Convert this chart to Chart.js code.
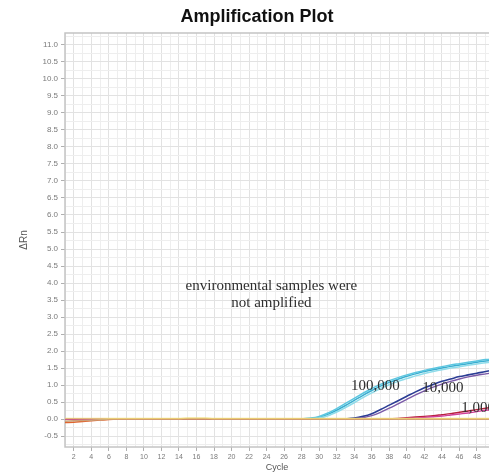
<!DOCTYPE html>
<html>
<head>
<meta charset="utf-8">
<script src="https://cdn.jsdelivr.net/npm/chart.js@4/dist/chart.umd.min.js"></script>
<style>
  html, body { margin: 0; padding: 0; background: #fff; overflow: hidden; }
  #wrap { width: 514px; height: 476px; }
</style>
</head>
<body>
<div id="wrap"><canvas id="plot" width="514" height="476"></canvas></div>
<script>
// Cycle numbers
const cycles = [1,2,3,4,5,6,7,8,9,10,11,12,13,14,15,16,17,18,19,20,21,22,23,24,25,
  26,27,28,29,30,31,32,33,34,35,36,37,38,39,40,41,42,43,44,45,46,47,48,49,50];

// Environmental samples (no amplification)
const envOrange = [-0.10,-0.09,-0.07,-0.05,-0.03,-0.01,0,0,0,0,0,0,0,0,0,0,0,0,0,0,0,0,0,0,0,
  0,0,0,0,0,0,0,0,0,0,0,0,0,0,0,0,0,0,0,0,0,0,0,0,0];
const envTan = [-0.06,-0.05,-0.04,-0.03,-0.02,0,0,0,0,0,0,0,0,0,0,0,0,0,0,0,0,0,0,0,0,
  0,0,0,0,0,0,0,0,0,0,0,0,0,0,0,0,0,0,0,0,0,0,0,0,0];
const envYellow = [0.02,0.02,0.02,0.02,0.02,0.02,0.02,0.02,0.02,0.02,0.02,0.02,0.02,0.02,0.03,0.03,0.03,0.02,0.02,0.02,0.02,0.02,0.02,0.02,0.02,
  0.02,0.02,0.02,0.02,0.02,0.02,0.02,0.02,0.02,0.02,0.02,0.02,0.02,0.02,0.02,0.02,0.02,0.02,0.02,0.02,0.02,0.02,0.02,0.02,0.02];

// Standard 100,000 copies
const std100kA = [0,0,0,0,0,0,0,0,0,0,0,0,0,0,0,0,0,0,0,0,0,0,0,0,0,0,0,0,
  0.01,0.05,0.14,0.26,0.40,0.55,0.70,0.84,0.97,1.08,1.17,1.26,1.33,1.40,1.45,1.50,1.55,1.59,1.63,1.67,1.71,1.74];
const std100kB = [0,0,0,0,0,0,0,0,0,0,0,0,0,0,0,0,0,0,0,0,0,0,0,0,0,0,0,
  0.01,0.03,0.08,0.18,0.31,0.46,0.61,0.76,0.90,1.02,1.13,1.22,1.30,1.37,1.43,1.49,1.54,1.59,1.63,1.67,1.71,1.75,1.78];
const std100kC = [0,0,0,0,0,0,0,0,0,0,0,0,0,0,0,0,0,0,0,0,0,0,0,0,0,0,0,0,
  0,0.03,0.10,0.21,0.34,0.48,0.63,0.77,0.90,1.01,1.11,1.19,1.27,1.34,1.40,1.45,1.50,1.54,1.58,1.62,1.66,1.69];

// Standard 10,000 copies
const std10kA = [0,0,0,0,0,0,0,0,0,0,0,0,0,0,0,0,0,0,0,0,0,0,0,0,0,0,0,0,0,0,0,0,
  0.01,0.03,0.08,0.16,0.28,0.41,0.54,0.67,0.80,0.92,1.02,1.11,1.18,1.25,1.30,1.35,1.40,1.44];
const std10kB = [0,0,0,0,0,0,0,0,0,0,0,0,0,0,0,0,0,0,0,0,0,0,0,0,0,0,0,0,0,0,0,0,0,
  0.01,0.04,0.10,0.20,0.32,0.45,0.58,0.71,0.83,0.94,1.03,1.11,1.18,1.24,1.29,1.33,1.37];

// Standard 1,000 copies
const std1kA = [0,0,0,0,0,0,0,0,0,0,0,0,0,0,0,0,0,0,0,0,0,0,0,0,0,0,0,0,0,0,0,0,0,0,0,0,0,
  0.01,0.02,0.04,0.06,0.08,0.10,0.13,0.16,0.20,0.24,0.28,0.32,0.36];
const std1kB = [0,0,0,0,0,0,0,0,0,0,0,0,0,0,0,0,0,0,0,0,0,0,0,0,0,0,0,0,0,0,0,0,0,0,0,0,0,0,
  0.01,0.02,0.03,0.05,0.07,0.09,0.12,0.15,0.18,0.22,0.26,0.29];

// Axis tick labels
const xTickLabels = [2,4,6,8,10,12,14,16,18,20,22,24,26,28,30,32,34,36,38,40,42,44,46,48];
const yTickLabels = [-0.5,0.0,0.5,1.0,1.5,2.0,2.5,3.0,3.5,4.0,4.5,5.0,5.5,6.0,6.5,7.0,7.5,8.0,8.5,9.0,9.5,10.0,10.5,11.0];

// Text notes placed in data coordinates
const notes = [
  { text: 'environmental samples were', x: 24.55, y: 3.91, align: 'center' },
  { text: 'not amplified', x: 24.55, y: 3.41, align: 'center' },
  { text: '100,000', x: 36.4, y: 0.96, align: 'center' },
  { text: '10,000', x: 44.1, y: 0.90, align: 'center' },
  { text: '1,000', x: 46.2, y: 0.32, align: 'left' }
];
const xTitle = { text: 'Cycle', x: 25.2 };

const pts = arr => cycles.map((c, i) => ({ x: c, y: arr[i] }));
const line = (label, arr, color, width) => ({
  label, data: pts(arr), borderColor: color, borderWidth: width,
  pointRadius: 0, fill: false, cubicInterpolationMode: 'monotone'
});

const datasets = [
  line('env yellow', envYellow, 'rgba(240,220,120,0.8)', 1.5),
  line('env tan', envTan, '#c9a07a', 1.5),
  line('env orange', envOrange, '#e0642e', 1.5),
  line('1,000 b', std1kB, '#d0409a', 1.4),
  line('1,000 a', std1kA, '#b8203c', 1.4),
  line('10,000 b', std10kB, '#7a5aa8', 1.4),
  line('10,000 a', std10kA, '#2a3c94', 1.6),
  line('100,000 c', std100kC, '#8fdcea', 1.5),
  line('100,000 b', std100kB, '#5cc6e0', 1.5),
  line('100,000 a', std100kA, '#3aaed0', 1.5)
];

// Frame around the plot area, the text notes and the x-axis title
const framePlugin = {
  id: 'frameAndNotes',
  beforeDatasetsDraw(chart) {
    const { ctx, chartArea: a } = chart;
    ctx.save();
    ctx.strokeStyle = '#c4c4c4';
    ctx.lineWidth = 1.5;
    ctx.strokeRect(a.left, a.top, a.right - a.left, a.bottom - a.top);
    ctx.restore();
  },
  afterDatasetsDraw(chart) {
    const { ctx, scales: { x, y } } = chart;
    ctx.save();
    ctx.fillStyle = '#2e2e2e';
    ctx.font = '15px "Liberation Serif", "DejaVu Serif", serif';
    ctx.textBaseline = 'middle';
    notes.forEach(n => {
      ctx.textAlign = n.align;
      ctx.fillText(n.text, x.getPixelForValue(n.x), y.getPixelForValue(n.y));
    });
    ctx.fillStyle = '#555';
    ctx.font = '9px "Liberation Sans", Arial, sans-serif';
    ctx.textAlign = 'center';
    ctx.fillText(xTitle.text, x.getPixelForValue(xTitle.x), x.bottom - 8);
    ctx.restore();
  }
};

new Chart(document.getElementById('plot'), {
  type: 'line',
  data: { datasets },
  plugins: [framePlugin],
  options: {
    responsive: false,
    animation: false,
    layout: { padding: 0 },
    plugins: {
      legend: { display: false },
      tooltip: { enabled: false },
      title: {
        display: true,
        text: 'Amplification Plot',
        color: '#111',
        font: { family: '"Liberation Sans", Arial, sans-serif', size: 18, weight: 'bold' },
        padding: { top: 6, bottom: 5.4 }
      }
    },
    scales: {
      x: {
        type: 'linear',
        min: 1,
        max: 52,
        afterBuildTicks: s => {
          const t = [];
          for (let v = 1; v <= 52; v++) t.push({ value: v });
          s.ticks = t;
        },
        afterFit: s => { s.height = 29; },
        ticks: {
          autoSkip: false,
          maxRotation: 0,
          padding: 2,
          color: '#7a7a7a',
          font: { family: '"Liberation Sans", Arial, sans-serif', size: 7 },
          callback: v => xTickLabels.includes(v) ? String(v) : ''
        },
        grid: {
          color: c => (c.tick && xTickLabels.includes(c.tick.value)) ? '#e2e2e2' : '#eeeeee',
          tickColor: c => (c.tick && xTickLabels.includes(c.tick.value)) ? '#b0b0b0' : 'rgba(0,0,0,0)',
          tickLength: 4,
          lineWidth: 1
        },
        border: { display: false },
        title: { display: false }
      },
      y: {
        type: 'linear',
        min: -0.82,
        max: 11.35,
        afterBuildTicks: s => {
          const t = [];
          for (let k = -3; k <= 45; k++) t.push({ value: k * 0.25 });
          s.ticks = t;
        },
        afterFit: s => { s.width = 65; },
        ticks: {
          autoSkip: false,
          padding: 3,
          color: '#7a7a7a',
          font: { family: '"Liberation Sans", Arial, sans-serif', size: 8 },
          callback: v => yTickLabels.some(l => Math.abs(l - v) < 1e-6) ? v.toFixed(1) : ''
        },
        grid: {
          color: c => (c.tick && yTickLabels.some(l => Math.abs(l - c.tick.value) < 1e-6)) ? '#e2e2e2' : '#eeeeee',
          tickColor: c => (c.tick && yTickLabels.some(l => Math.abs(l - c.tick.value) < 1e-6)) ? '#b0b0b0' : 'rgba(0,0,0,0)',
          tickLength: 4,
          lineWidth: 1
        },
        border: { display: false },
        title: {
          display: true,
          text: 'ΔRn',
          color: '#555',
          font: { family: '"Liberation Sans", Arial, sans-serif', size: 10 },
          padding: { top: 18, bottom: 0 }
        }
      }
    }
  }
});
</script>
</body>
</html>
